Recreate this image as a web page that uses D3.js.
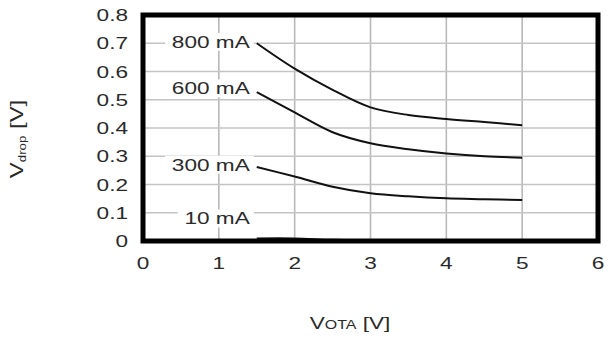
<!DOCTYPE html>
<html>
<head>
<meta charset="utf-8">
<script src="https://cdn.jsdelivr.net/npm/d3@7"></script>
<style>
  body { margin: 0; background: #fff; }
  svg text { font-family: "Liberation Sans", Arial, sans-serif; fill: #2a2a2a; }
</style>
</head>
<body>
<div id="chart"></div>
<script>
// V_OTA values where the curves were read
var vota = [1.5, 2, 2.5, 3, 3.5, 4, 4.5, 5];
// V_drop for each load current
var drop800 = [0.700, 0.610, 0.535, 0.473, 0.446, 0.432, 0.421, 0.410];
var drop600 = [0.527, 0.455, 0.385, 0.346, 0.325, 0.310, 0.300, 0.295];
var drop300 = [0.262, 0.228, 0.192, 0.169, 0.158, 0.151, 0.148, 0.145];
var drop10  = [0.009, 0.009, 0.004, 0.003, 0.003, 0.003, 0.003, 0.003];
var seriesNames = ["800 mA", "600 mA", "300 mA", "10 mA"];
var labelAt = [0.705, 0.54, 0.27, 0.08];
var xTicks = [0, 1, 2, 3, 4, 5, 6];
var yTicks = [0, 0.1, 0.2, 0.3, 0.4, 0.5, 0.6, 0.7, 0.8];

var W = 608, H = 337;
var sx = 1.33; // the source picture is stretched sideways

let svg = d3.select("#chart")
            .append("svg")
            .attr("width", W)
            .attr("height", H);

let x = d3.scaleLinear().domain([0, 6]).range([143, 598]);
let y = d3.scaleLinear().domain([0, 0.8]).range([241, 15]);

// grid
let grid = svg.append("g").attr("class", "grid");
grid.selectAll("line.v")
    .data(xTicks.slice(1, -1))
    .enter().append("line")
    .attr("x1", d => x(d)).attr("x2", d => x(d))
    .attr("y1", y(0.8)).attr("y2", y(0))
    .style("stroke", "#b8b8b8").style("stroke-width", 1.6);
grid.selectAll("line.h")
    .data(yTicks.slice(1, -1))
    .enter().append("line")
    .attr("x1", x(0)).attr("x2", x(6))
    .attr("y1", d => y(d)).attr("y2", d => y(d))
    .style("stroke", "#c4c4c4").style("stroke-width", 1.6);

function stretched(g, px, py, txt, anchor, size) {
  return g.append("text")
          .attr("transform", "translate(" + px + "," + py + ") scale(" + sx + ",1)")
          .attr("text-anchor", anchor)
          .style("font-size", size + "px")
          .text(txt);
}

// curve labels with white boxes that break the grid
let lab = svg.append("g");
seriesNames.forEach(function (name, i) {
  let cy = y(labelAt[i]);
  let t = stretched(lab, x(1.5) - 7, cy + 6, name, "end", 17);
  let bb = t.node().getBBox();
  let w = bb.width * sx;
  lab.insert("rect", "text")
     .attr("x", x(1.5) - 7 - w - 6)
     .attr("y", cy - 9)
     .attr("width", w + 10)
     .attr("height", 18)
     .style("fill", "#fff");
});

// curves
let line = d3.line()
             .x(d => x(d[0]))
             .y(d => y(d[1]))
             .curve(d3.curveCatmullRom.alpha(0.5));

let allSeries = [drop800, drop600, drop300, drop10];
svg.append("g").selectAll("path")
   .data(allSeries)
   .enter().append("path")
   .attr("d", s => line(vota.map((v, i) => [v, s[i]])))
   .style("fill", "none")
   .style("stroke", "#111")
   .style("stroke-width", 2);

// frame
svg.append("rect")
   .attr("x", x(0)).attr("y", y(0.8))
   .attr("width", x(6) - x(0)).attr("height", y(0) - y(0.8))
   .style("fill", "none")
   .style("stroke", "#000")
   .style("stroke-width", 5);

// tick labels
let ax = svg.append("g");
xTicks.forEach(function (d) {
  stretched(ax, x(d), 269, d3.format("d")(d), "middle", 17);
});
yTicks.forEach(function (d) {
  let t = stretched(ax, 128, y(d) + 6, d3.format(".1f")(d), "end", 17);
  if (d === 0) t.text("0");
});

// axis titles
let xt = svg.append("text")
            .attr("transform", "translate(350,329) scale(" + sx + ",1)")
            .attr("text-anchor", "middle")
            .style("font-size", "17px");
xt.append("tspan").text("V");
xt.append("tspan").style("font-size", "12px").text("OTA");
xt.append("tspan").text(" [V]");

let yt = svg.append("text")
            .attr("transform", "translate(23,139) rotate(-90) scale(" + sx + ",1)")
            .attr("text-anchor", "middle")
            .style("font-size", "18px");
yt.append("tspan").text("V");
yt.append("tspan").style("font-size", "10px").attr("dy", 3).text("drop");
yt.append("tspan").attr("dy", -3).text(" [V]");
</script>
</body>
</html>
